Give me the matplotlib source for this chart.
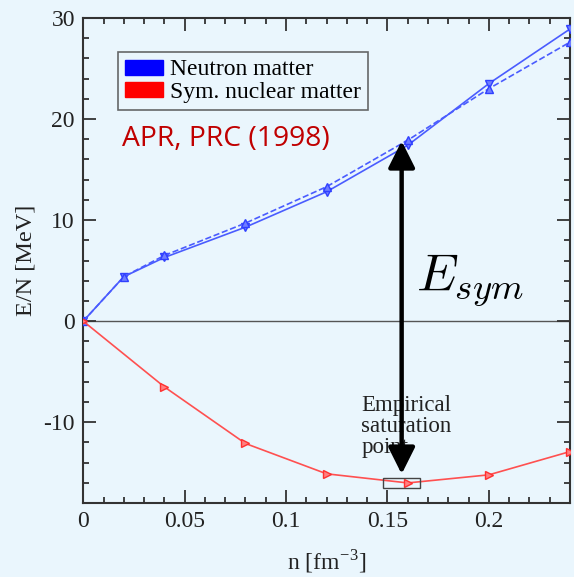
import matplotlib
matplotlib.use('Agg')
import matplotlib.pyplot as plt
from matplotlib.patches import Patch, Rectangle, FancyArrowPatch
from matplotlib.ticker import MultipleLocator

# APR equation of state, energy per particle
nNeutron = [0.0, 0.02, 0.04, 0.08, 0.12, 0.16, 0.20, 0.24]
eNeutronSolid = [0.0, 4.4, 6.3, 9.3, 12.8, 17.4, 23.5, 28.9]
eNeutronDashed = [0.0, 4.4, 6.5, 9.7, 13.3, 17.9, 23.0, 27.6]

nSym = [0.0, 0.04, 0.08, 0.12, 0.16, 0.20, 0.24]
eSym = [0.0, -6.5, -12.1, -15.1, -16.0, -15.2, -12.9]

legendLabels = ['Neutron matter', 'Sym. nuclear matter']

bg = '#eaf6fd'
plt.rcParams['mathtext.fontset'] = 'cm'
plt.rcParams['axes.unicode_minus'] = False
plt.rcParams['font.family'] = ['Liberation Serif', 'DejaVu Serif']

fig = plt.figure(figsize=(5.74, 5.77), dpi=100, facecolor=bg)
ax = fig.add_axes([0.145, 0.128, 0.848, 0.841], facecolor=bg)

ax.axhline(0, color='#555555', lw=1.0, zorder=1)

ax.plot(nNeutron, eNeutronSolid, '-', color='#4a5cff', lw=1.2, marker='v',
        ms=6, mfc='#6f7dff', mec='#3040ff', zorder=3)
ax.plot(nNeutron, eNeutronDashed, '--', color='#4a5cff', lw=1.2, marker='^',
        ms=6, mfc='#6f7dff', mec='#3040ff', zorder=3)
ax.plot(nSym, eSym, '-', color='#ff5050', lw=1.2, marker='>',
        ms=6, mfc='#ff8080', mec='#ff3030', zorder=3)

ax.set_xlim(0, 0.24)
ax.set_ylim(-18, 30)
ax.xaxis.set_minor_locator(MultipleLocator(0.01))
ax.yaxis.set_major_locator(MultipleLocator(10))
ax.yaxis.set_minor_locator(MultipleLocator(2))
ax.set_xticks([0, 0.05, 0.1, 0.15, 0.2])
ax.set_xticklabels(['0', '0.05', '0.1', '0.15', '0.2'])
ax.tick_params(which='both', direction='in', top=True, right=True,
               colors='#333333', labelcolor='#222222', labelsize=17, width=1.3)
ax.tick_params(which='major', length=9.5, pad=6)
ax.tick_params(which='minor', length=4.5)
for s in ax.spines.values():
    s.set_color('#333333')
    s.set_linewidth(1.5)

ax.set_xlabel(r'n [fm$^{\mathregular{-3}}$]', fontsize=17, color='#222222', labelpad=11)
ax.set_ylabel('E/N [MeV]', fontsize=17.5, color='#222222', labelpad=5)

handles = [Patch(facecolor='#0000ff', edgecolor='#0000ff'),
           Patch(facecolor='#ff0000', edgecolor='#ff0000')]
leg = ax.legend(handles, legendLabels, loc='upper left', bbox_to_anchor=(0.071, 0.929),
                fontsize=17, frameon=True, fancybox=False, borderaxespad=0,
                handlelength=1.6, handleheight=0.6, handletextpad=0.3,
                labelspacing=0.08, borderpad=0.3)
leg.get_frame().set_edgecolor('#444444')
leg.get_frame().set_facecolor(bg)
leg.get_frame().set_linewidth(1.2)

ax.text(0.019, 18.0, 'APR, PRC (1998)', fontsize=20.3, color='#c00000',
        family=['Open Sans', 'DejaVu Sans'], va='center', ha='left')

ax.text(0.1642, 2.96, r'$E_{sym}$', fontsize=38, color='black', va='baseline', ha='left')

arrow = FancyArrowPatch((0.157, -15.4), (0.157, 18.1),
                        arrowstyle='<|-|>,head_length=0.9,head_width=0.45',
                        mutation_scale=18, color='black', lw=3.2, zorder=5)
ax.add_patch(arrow)

ax.add_patch(Rectangle((0.148, -16.5), 0.018, 1.0, fill=False,
                       edgecolor='#444444', lw=1.0, zorder=4))
ax.text(0.137, -7.3, 'Empirical\nsaturation\npoint', fontsize=16.5, color='#222222',
        va='top', ha='left', linespacing=1.0)

fig.savefig('out.png', dpi=100, facecolor=bg)
